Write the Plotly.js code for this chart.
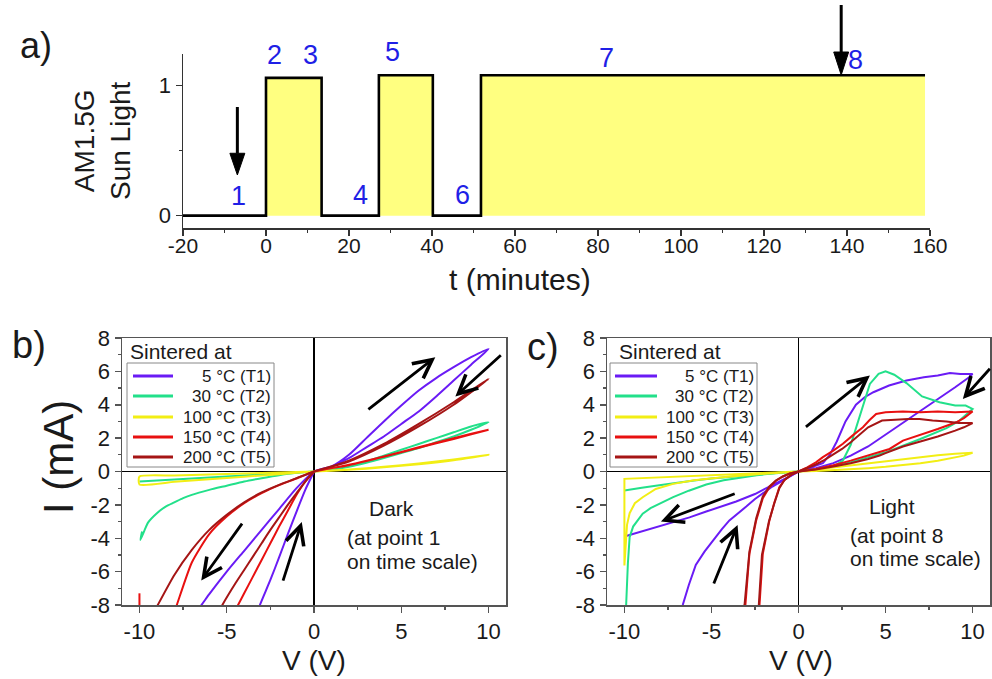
<!DOCTYPE html>
<html><head><meta charset="utf-8">
<script src="https://cdn.plot.ly/plotly-3.0.1.min.js"></script>
<style>html,body{margin:0;padding:0;background:#fff;} #chart{width:992px;height:679px;}</style>
</head><body><div id="chart"></div>
<script>
// ---------- Panel a: illumination schedule ----------
const tMinutes = [-20, 0, 0, 13.4, 13.4, 27.2, 27.2, 40.2, 40.2, 51.8, 51.8, 158.8];
const sunLight = [0, 0, 1.06, 1.06, 0, 0, 1.08, 1.08, 0, 0, 1.08, 1.08];
const tTicks = [-20, 0, 20, 40, 60, 80, 100, 120, 140, 160];
const sunTicks = [0, 1];
const pointLabels = ['1', '2', '3', '4', '5', '6', '7', '8'];
const pointTimes = [-6.7, 2.1, 10.7, 22.7, 30.4, 47.3, 82, 142];

// ---------- Panels b & c: I-V loops ----------
const tempNames = ['5 °C (T1)', '30 °C (T2)', '100 °C (T3)', '150 °C (T4)', '200 °C (T5)'];
const vTicks = [-10, -5, 0, 5, 10];
const iTicks = [-8, -6, -4, -2, 0, 2, 4, 6, 8];

// Dark (panel b)
const darkT1_V = [0,1,2,3,4,5,6,7,8,9,10, 9,8,7,6,5,4,3,2,1,0, -1,-2,-3,-4,-5,-6,-6.45,-6.9, null, -3.3,-3.1,-2.5,-2,-1.5,-1,-0.5,0];
const darkT1_I = [0,0.3,1.0,2.0,3.0,3.95,4.85,5.6,6.25,6.85,7.35, 6.4,5.45,4.5,3.6,2.85,2.1,1.45,0.8,0.3,0, -1.0,-2.25,-3.5,-4.75,-6.0,-7.35,-8.0,-8.6, null, -8.6,-8.0,-6.5,-5.15,-3.75,-2.4,-1.1,0];
const darkT2_V = [0,1,2,3,4,5,6,7,8,9,10, 9,8,7,6,5,4,3,2,1,0, -1,-2,-3,-4,-5,-6,-7,-8,-9,-10, null, -9.85,-9.95,-9.7,-9.5,-9,-8.5,-8,-7.5,-7,-6,-5,-4,-3,-2,-1,0];
const darkT2_I = [0,0.1,0.3,0.6,0.95,1.3,1.65,2.0,2.35,2.7,2.95, 2.5,2.1,1.75,1.4,1.1,0.8,0.52,0.28,0.1,0, -0.06,-0.12,-0.18,-0.24,-0.3,-0.36,-0.42,-0.48,-0.54,-0.6, null, -3.6,-4.1,-3.5,-3.05,-2.5,-2.1,-1.85,-1.6,-1.4,-1.1,-0.85,-0.6,-0.4,-0.22,-0.08,0];
const darkT3_V = [0,2,4,6,8,10, 8,6,4,2,0, -2,-4,-6,-8,-10, -10,-8,-6,-4,-2,0];
const darkT3_I = [0,0.12,0.28,0.48,0.72,1.0, 0.68,0.44,0.25,0.1,0, -0.06,-0.12,-0.18,-0.24,-0.3, -0.78,-0.62,-0.46,-0.31,-0.16,0];
const darkT4_V = [0,2,4,6,8,10, 8,6,4,2,0, -1,-2,-3,-4,-5,-6,-7,-7.86,-8.2, null, -10,-10, null, -4.6,-4.35,-4,-3.5,-3,-2.5,-2,-1.5,-1,-0.5,0];
const darkT4_I = [0,0.4,0.9,1.45,2.0,2.5, 1.95,1.42,0.88,0.38,0, -0.42,-0.82,-1.3,-1.9,-2.7,-3.75,-5.45,-8.0,-9.0, null, -8.6,-7.3, null, -8.5,-8.0,-7.3,-6.3,-5.3,-4.3,-3.3,-2.35,-1.4,-0.6,0];
const darkT5_V = [0,2,4,6,8,10, 8,6,4,2,0, -1,-2,-3,-4,-5,-6,-7,-8,-8.95,-9.3, null, -5.5,-5.25,-4.5,-4,-3.5,-3,-2.5,-2,-1.5,-1,-0.5,0];
const darkT5_I = [0,0.65,1.65,2.85,4.15,5.55, 4.0,2.7,1.55,0.6,0, -0.4,-0.8,-1.25,-1.85,-2.6,-3.5,-4.7,-6.2,-8.0,-8.7, null, -8.5,-8.0,-6.7,-5.9,-5.1,-4.3,-3.5,-2.75,-2.0,-1.3,-0.6,0];

// Light (panel c)
const lightT1_V = [0,0.5,1,1.4,1.8,2.2,2.7,3.3,3.8,4.3,5.2,6.2,7.2,8,8.7,9.3,10, 9.8,9,8,7,6,5,4.66,4,3,2,1,0, -0.54,-1,-1.67,-2.5,-3.58,-4.5,-5.3,-6.26,-7.2,-8.18,-9,-10, null, -6.9,-6.65,-6.3,-5.9,-5.4,-4.9,-4.4,-3.97,-3.5,-3,-2.5,-2,-1.5,-1,-0.5,0];
const lightT1_I = [0,0.15,0.35,0.5,1.0,1.8,3.0,4.0,4.45,4.75,5.15,5.45,5.65,5.75,5.9,5.85,5.85, 5.65,5.05,4.35,3.65,2.9,2.2,1.97,1.5,0.95,0.5,0.2,0, -0.3,-0.55,-0.94,-1.35,-1.8,-2.1,-2.4,-2.75,-3.05,-3.35,-3.6,-3.9, null, -8.7,-8.0,-6.8,-5.6,-4.8,-4.1,-3.45,-2.93,-2.5,-2.1,-1.65,-1.25,-0.9,-0.6,-0.28,0];
const lightT2_V = [0,1,2,2.55,3,3.5,4.1,4.6,5.0,5.5,6.2,7.1,8.1,9.0,9.6,10, 9.6,9.25,8.5,7,5,3,1.5,0, -1,-2,-3,-4,-5,-6,-7,-8,-9,-10, null, -9.95,-9.9,-9.8,-9.7,-9.5,-9.2,-8.95,-8.5,-8,-7.2,-6.3,-5.3,-4.3,-3.3,-2.4,-1.5,-0.7,0];
const lightT2_I = [0,0.1,0.3,0.66,1.6,3.2,5.25,5.85,6.0,5.8,5.3,4.5,4.15,3.95,3.95,3.75, 3.4,3.05,2.6,1.95,1.15,0.55,0.2,0, -0.06,-0.14,-0.22,-0.32,-0.42,-0.54,-0.66,-0.82,-0.98,-1.14, null, -8.6,-8.0,-5.5,-3.93,-3.3,-2.85,-2.53,-2.2,-1.95,-1.54,-1.15,-0.78,-0.52,-0.35,-0.22,-0.12,-0.05,0];
const lightT3_V = [0,1,2,3,4,5,6,7,8,9,10, 9.5,9,8,7,6,5,4,3,2,1,0, -2,-4,-6,-8,-10, -10,-9.95,-9.85,-9.7,-9.4,-8.95,-8.2,-7.2,-6,-4.35,-3,-1.5,0];
const lightT3_I = [0,0.12,0.26,0.38,0.5,0.63,0.75,0.86,0.97,1.06,1.12, 0.95,0.85,0.65,0.5,0.38,0.28,0.2,0.13,0.07,0.03,0, -0.08,-0.17,-0.26,-0.35,-0.44, -5.63,-4.5,-3.2,-2.5,-1.9,-1.54,-1.05,-0.74,-0.52,-0.34,-0.22,-0.1,0];
const lightT4_V = [0,0.5,1,1.4,2,2.55,3.1,3.7,4.1,4.46,5,6,7,8,9,10, 9.5,9.06,8,7,6,5.23,4.66,4,3,2,1,0, -0.5,-0.9,-1.3,-1.67,-2.05,-2.43,-2.82,-3.05,-3.2, null, -2.35,-2.24,-2.05,-1.67,-1.4,-1.1,-0.8,-0.4,0];
const lightT4_I = [0,0.25,0.55,0.86,1.25,1.66,2.15,2.65,3.1,3.45,3.55,3.6,3.55,3.6,3.55,3.6, 3.2,2.95,2.55,2.2,1.85,1.35,1.16,0.95,0.65,0.38,0.15,0, -0.12,-0.3,-0.55,-0.94,-1.6,-2.93,-4.93,-8.0,-9.0, null, -9.0,-8.0,-4.93,-2.93,-1.9,-0.94,-0.5,-0.18,0];
const lightT5_V = [0,0.5,1,1.5,2,2.5,3,3.5,4,4.8,5.5,6.3,6.95,7.7,8.5,9.2,10, 9.5,9,8,7,6,5,4.66,4,3,2,1,0, -0.5,-0.9,-1.3,-1.67,-2.05,-2.43,-2.82,-3.1,-3.25, null, -2.4,-2.28,-2.1,-1.7,-1.4,-1.1,-0.8,-0.4,0];
const lightT5_I = [0,0.2,0.42,0.7,1.0,1.35,1.75,2.2,2.65,3.05,3.1,3.15,3.15,3.05,3.0,2.9,2.9, 2.65,2.45,2.1,1.8,1.5,1.1,0.96,0.75,0.5,0.3,0.12,0, -0.12,-0.3,-0.55,-0.9,-1.5,-2.8,-4.8,-8.0,-9.0, null, -9.0,-8.0,-5.0,-3.0,-1.95,-1.0,-0.5,-0.18,0];

// ---------- styling ----------
const W = 992, H = 679;
const PX = p => p / W, PY = p => 1 - p / H;
const FONT = 'Liberation Sans, Arial, Helvetica, sans-serif';
const TXT = '#1a1a1a';
const BLUE = '#1f1fe6';
const tempColors = ['#6A1BF5', '#22E08A', '#F2EE14', '#E81010', '#A51515'];

const darkV = [darkT1_V, darkT2_V, darkT3_V, darkT4_V, darkT5_V];
const darkI = [darkT1_I, darkT2_I, darkT3_I, darkT4_I, darkT5_I];
const lightV = [lightT1_V, lightT2_V, lightT3_V, lightT4_V, lightT5_V];
const lightI = [lightT1_I, lightT2_I, lightT3_I, lightT4_I, lightT5_I];

const traces = [{
  x: tMinutes, y: sunLight, xaxis: 'x', yaxis: 'y', mode: 'lines',
  line: {color: '#000', width: 2.6}, fill: 'tozeroy', fillcolor: '#FFFF80',
  showlegend: false, name: 'AM1.5G'
}];
tempNames.forEach((n, k) => {
  traces.push({x: darkV[k], y: darkI[k], xaxis: 'x2', yaxis: 'y2', mode: 'lines', name: n,
    line: {color: tempColors[k], width: 2, shape: 'spline', smoothing: 0.6}, showlegend: false});
});
tempNames.forEach((n, k) => {
  traces.push({x: lightV[k], y: lightI[k], xaxis: 'x3', yaxis: 'y3', mode: 'lines', name: n,
    line: {color: tempColors[k], width: 2}, showlegend: false});
});

const ivAxis = (dom, anchor) => ({
  domain: dom, anchor: anchor, showgrid: false, showline: true, mirror: true,
  linecolor: '#555', linewidth: 1.5, ticks: 'outside', ticklen: 6, tickwidth: 1.5, tickcolor: '#555',
  tickfont: {family: FONT, size: 22, color: TXT}, zeroline: true, zerolinecolor: '#000', zerolinewidth: 1.2,
  fixedrange: true
});

const xb = Object.assign(ivAxis([PX(122), PX(506)], 'y2'), {range: [-11, 11], tickmode: 'array', tickvals: vTicks, ticktext: vTicks.map(String), ticklabelstandoff: 0,
  minor: {tickmode: 'linear', tick0: 0, dtick: 2.5, ticks: 'outside', ticklen: 3, tickcolor: '#555', tickwidth: 1.2}});
const yb = Object.assign(ivAxis([PY(605), PY(338)], 'x2'), {range: [-8, 8], tickmode: 'array', tickvals: iTicks, ticktext: iTicks.map(String),
  minor: {tickmode: 'linear', tick0: 0, dtick: 1, ticks: 'outside', ticklen: 3, tickcolor: '#555', tickwidth: 1.2}});
const xc = Object.assign(ivAxis([PX(607), PX(990)], 'y3'), {range: [-11, 11], tickmode: 'array', tickvals: vTicks, ticktext: vTicks.map(String), ticklabelstandoff: 0,
  minor: {tickmode: 'linear', tick0: 0, dtick: 2.5, ticks: 'outside', ticklen: 3, tickcolor: '#555', tickwidth: 1.2}});
const yc = Object.assign(ivAxis([PY(605), PY(338)], 'x3'), {range: [-8, 8], tickmode: 'array', tickvals: iTicks, ticktext: iTicks.map(String),
  minor: {tickmode: 'linear', tick0: 0, dtick: 1, ticks: 'outside', ticklen: 3, tickcolor: '#555', tickwidth: 1.2}});

const annotations = [];
const shapes = [];
const txt = (text, x, y, size, opts) => annotations.push(Object.assign({
  text: text, x: PX(x), y: PY(y), xref: 'paper', yref: 'paper', showarrow: false,
  xanchor: 'center', yanchor: 'middle', font: {family: FONT, size: size, color: TXT}
}, opts || {}));

// panel letters & titles
txt('a)', 36, 46, 36);
txt('b)', 29, 345, 38);
txt('c)', 543, 347, 38);
txt('AM1.5G<br>Sun Light', 102, 141, 28, {textangle: -90});
txt('t (minutes)', 520, 279, 30);
txt('I (mA)', 58, 457, 42, {textangle: -90});
txt('V (V)', 314, 660, 28);
txt('V (V)', 801, 660, 28);

// blue point labels on the time scale
const labelPy = [196, 55, 55, 195, 52, 195, 58, 60];
pointLabels.forEach((s, k) => annotations.push({
  text: s, x: pointTimes[k], xref: 'x', y: PY(labelPy[k]), yref: 'paper', showarrow: false,
  xanchor: 'center', yanchor: 'middle', font: {family: FONT, size: 27, color: BLUE}
}));

// arrows in panel a (filled narrow heads)
const arrowA = (t, yTail, yBase, yTip, yref) => {
  shapes.push({type: 'line', xref: 'x', yref: yref, x0: t, x1: t, y0: yTail, y1: yBase, line: {color: '#000', width: 3}});
  shapes.push({type: 'path', xref: 'x', yref: yref, path: `M${t - 1.8},${yBase} L${t + 1.8},${yBase} L${t},${yTip} Z`,
    fillcolor: '#000', line: {color: '#000', width: 1}});
};
arrowA(-6.9, 0.836, 0.48, 0.313, 'y');
arrowA(138.6, PY(5), PY(52), PY(75), 'paper');

// arrows in panels b and c
const ivArrows = (axx, axy, list) => list.forEach(a => annotations.push({
  text: '', x: a[2], y: a[3], ax: a[0], ay: a[1], xref: axx, yref: axy, axref: axx, ayref: axy,
  showarrow: true, arrowhead: 5, arrowsize: 1.3, arrowwidth: 2.8, arrowcolor: '#000', standoff: 0
}));
ivArrows('x2', 'y2', [[3.03, 3.65, 6.95, 6.85], [10.79, 7.05, 8.1, 4.5], [-4.06, -3.03, -6.46, -6.53], [-1.8, -6.63, -0.7, -3.03]]);
ivArrows('x3', 'y3', [[0.34, 2.6, 4.1, 5.75], [11.07, 6.25, 9.44, 4.35], [-3.58, -1.3, -7.9, -3.0], [-4.9, -6.8, -3.5, -3.2]]);

// in-plot notes
txt('Dark', 367, 508, 21, {xanchor: 'left'});
txt('(at point 1', 345, 537, 21, {xanchor: 'left'});
txt('on time scale)', 345, 561, 21, {xanchor: 'left'});
txt('Light', 867, 506, 21, {xanchor: 'left'});
txt('(at point 8', 848, 535, 21, {xanchor: 'left'});
txt('on time scale)', 848, 558, 21, {xanchor: 'left'});

// legends (drawn as keys)
const rowsY = [376, 396, 417, 437, 457];
const drawKey = (boxL, boxR, lineL, lineR, textR, titleL) => {
  txt('Sintered at', titleL, 351, 21, {xanchor: 'left'});
  shapes.push({type: 'rect', xref: 'paper', yref: 'paper', x0: PX(boxL), x1: PX(boxR), y0: PY(467), y1: PY(363),
    line: {color: '#888', width: 1}, fillcolor: 'rgba(255,255,255,0)'});
  tempNames.forEach((n, k) => {
    shapes.push({type: 'line', xref: 'paper', yref: 'paper', x0: PX(lineL), x1: PX(lineR), y0: PY(rowsY[k]), y1: PY(rowsY[k]),
      line: {color: tempColors[k], width: 3}});
    txt(n, textR, rowsY[k], 17, {xanchor: 'right'});
  });
};
drawKey(127, 274, 133, 173, 273, 128);
drawKey(610, 757, 615, 657, 756, 617);

const layout = {
  width: W, height: H, margin: {l: 0, r: 0, t: 0, b: 0}, paper_bgcolor: '#fff', plot_bgcolor: 'rgba(0,0,0,0)',
  showlegend: false, font: {family: FONT, color: TXT},
  xaxis: {domain: [PX(183), PX(930)], anchor: 'y', range: [-20, 160], showgrid: false, zeroline: false,
    showline: true, linecolor: '#333', linewidth: 1.5, ticks: 'outside', ticklen: 6, tickwidth: 1.5, tickcolor: '#333',
    tickmode: 'array', tickvals: tTicks, ticktext: tTicks.map(String), ticklabelstandoff: -8,
    tickfont: {family: FONT, size: 21, color: TXT},
    minor: {tickmode: 'linear', tick0: 0, dtick: 10, ticks: 'outside', ticklen: 3, tickcolor: '#333', tickwidth: 1.2}},
  yaxis: {domain: [PY(228), PY(54)], anchor: 'x', range: [-0.095, 1.244], showgrid: false, zeroline: false,
    showline: true, linecolor: '#333', linewidth: 1.5, ticks: 'outside', ticklen: 6, tickwidth: 1.5, tickcolor: '#333',
    tickmode: 'array', tickvals: sunTicks, ticktext: sunTicks.map(String),
    tickfont: {family: FONT, size: 22, color: TXT},
    minor: {tickmode: 'linear', tick0: 0, dtick: 0.5, ticks: 'outside', ticklen: 3, tickcolor: '#333', tickwidth: 1.2}},
  xaxis2: xb, yaxis2: yb, xaxis3: xc, yaxis3: yc,
  annotations: annotations, shapes: shapes
};

Plotly.newPlot('chart', traces, layout, {staticPlot: true, displayModeBar: false});
</script></body></html>
